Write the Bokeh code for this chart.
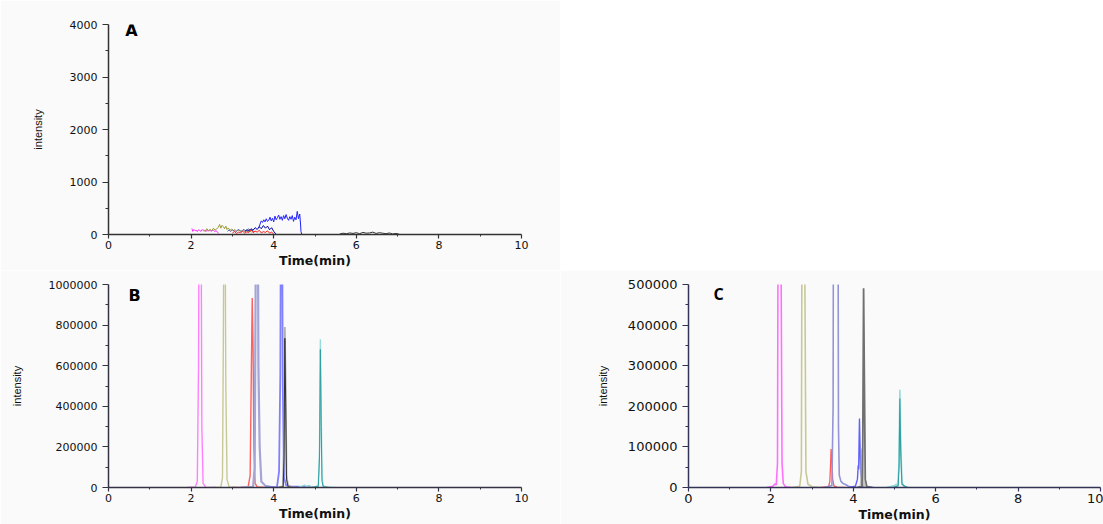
from bokeh.plotting import figure
from bokeh.layouts import column, row
from bokeh.models import Range1d, FixedTicker, Label, Spacer, NumeralTickFormatter
from bokeh.embed import file_html
from bokeh.resources import INLINE

# ---------------- axis ticks ----------------
X_TICKS = [0, 2, 4, 6, 8, 10]
X_MINOR = [1, 3, 5, 7, 9]
A_YTICKS = [0, 1000, 2000, 3000, 4000]
A_YMINOR = [500, 1500, 2500, 3500]
B_YTICKS = [0, 200000, 400000, 600000, 800000, 1000000]
B_YMINOR = [100000, 300000, 500000, 700000, 900000]
C_YTICKS = [0, 100000, 200000, 300000, 400000, 500000]
C_YMINOR = [50000, 150000, 250000, 350000, 450000]

# ---------------- panel A (blank sample, noise) ----------------
A_pink_t = [2.02, 2.04, 2.07, 2.10, 2.12, 2.15, 2.18, 2.21, 2.24, 2.27, 2.30, 2.33, 2.36, 2.39, 2.42, 2.45, 2.48, 2.51, 2.54, 2.57, 2.60, 2.63, 2.66]
A_pink_y = [115, 60, 95, 70, 85, 55, 90, 75, 60, 95, 70, 80, 55, 85, 65, 90, 60, 75, 85, 55, 70, 60, 20]
A_olive_t = [2.30, 2.34, 2.38, 2.42, 2.46, 2.50, 2.54, 2.58, 2.62, 2.66, 2.69, 2.72, 2.75, 2.78, 2.81, 2.84, 2.87, 2.90, 2.94, 2.98, 3.02, 3.06, 3.10, 3.14, 3.18, 3.22, 3.26, 3.30, 3.34, 3.38, 3.42, 3.46]
A_olive_y = [90, 60, 110, 75, 95, 70, 120, 85, 105, 140, 190, 120, 175, 150, 110, 160, 95, 125, 80, 105, 70, 95, 60, 85, 75, 55, 80, 60, 70, 50, 65, 40]
A_slate_t = [2.88, 2.92, 2.96, 3.00, 3.04, 3.08, 3.12, 3.16, 3.20, 3.24, 3.28, 3.32, 3.36, 3.40, 3.44, 3.48, 3.52]
A_slate_y = [60, 85, 55, 90, 70, 50, 80, 95, 60, 75, 100, 65, 85, 110, 70, 90, 40]
A_red_t = [3.00, 3.05, 3.10, 3.15, 3.20, 3.25, 3.30, 3.35, 3.40, 3.45, 3.50, 3.55, 3.60, 3.65, 3.70, 3.75, 3.80, 3.85, 3.90, 3.95, 4.00]
A_red_y = [30, 55, 20, 45, 35, 60, 25, 50, 40, 90, 35, 65, 45, 80, 30, 55, 40, 70, 25, 45, 10]
A_navy_t = [3.30, 3.35, 3.40, 3.45, 3.50, 3.55, 3.60, 3.65, 3.70, 3.75, 3.80, 3.85, 3.90, 3.95, 4.00, 4.05]
A_navy_y = [60, 90, 70, 110, 80, 130, 95, 150, 110, 170, 120, 160, 90, 130, 60, 10]
A_blue_t = [3.64, 3.67, 3.70, 3.73, 3.76, 3.79, 3.82, 3.85, 3.88, 3.91, 3.94, 3.97, 4.00, 4.03, 4.06, 4.09, 4.12, 4.15, 4.18, 4.21, 4.24, 4.27, 4.30, 4.33, 4.36, 4.39, 4.42, 4.45, 4.48, 4.51, 4.54, 4.57, 4.60, 4.63, 4.65, 4.66, 4.68]
A_blue_y = [120, 200, 260, 230, 280, 240, 300, 250, 270, 330, 260, 310, 240, 350, 280, 320, 370, 290, 340, 270, 360, 300, 380, 310, 270, 340, 290, 360, 250, 330, 280, 440, 300, 390, 200, 60, 0]
A_black_t = [5.60, 5.68, 5.76, 5.84, 5.92, 6.00, 6.08, 6.16, 6.24, 6.32, 6.40, 6.48, 6.56, 6.64, 6.72, 6.80, 6.88, 6.96, 7.04]
A_black_y = [10, 25, 15, 30, 20, 35, 15, 40, 25, 30, 45, 20, 35, 25, 15, 30, 10, 20, 5]

# ---------------- panel B ----------------
B_pink_t = [1.90, 2.10, 2.15, 2.18, 2.20, 2.22, 2.24, 2.26, 2.29, 2.35, 2.60]
B_pink_y = [0, 3000, 30000, 600000, 1800000, 2200000, 1500000, 300000, 20000, 2000, 0]
B_khaki_t = [2.50, 2.72, 2.76, 2.78, 2.80, 2.82, 2.84, 2.87, 2.92, 3.10]
B_khaki_y = [0, 2000, 50000, 700000, 1600000, 1500000, 520000, 40000, 3000, 0]
B_red_t = [3.00, 3.38, 3.43, 3.46, 3.48, 3.50, 3.52, 3.55, 3.60, 3.80]
B_red_y = [0, 2000, 60000, 600000, 934000, 700000, 200000, 20000, 3000, 0]
B_lav_t = [3.20, 3.50, 3.54, 3.57, 3.59, 3.61, 3.63, 3.66, 3.70, 3.80, 4.00]
B_lav_y = [0, 3000, 100000, 1300000, 2000000, 1700000, 600000, 200000, 30000, 8000, 0]
B_blue_t = [3.80, 4.08, 4.13, 4.16, 4.18, 4.20, 4.22, 4.25, 4.30, 4.40, 4.70, 5.00]
B_blue_y = [0, 3000, 80000, 560000, 1800000, 1600000, 500000, 50000, 10000, 5000, 3000, 0]
B_gray_t = [4.10, 4.22, 4.25, 4.27, 4.29, 4.31, 4.35, 4.50]
B_gray_y = [0, 5000, 200000, 790000, 500000, 60000, 5000, 0]
B_black_t = [4.10, 4.23, 4.25, 4.27, 4.29, 4.31, 4.35, 4.50]
B_black_y = [0, 3000, 150000, 735000, 420000, 40000, 3000, 0]
B_tealL_t = [4.60, 4.70, 4.75, 4.80, 4.85, 4.90, 5.00, 5.08, 5.11, 5.13, 5.15, 5.17, 5.20, 5.30, 5.50]
B_tealL_y = [0, 8000, 12000, 6000, 10000, 5000, 4000, 10000, 200000, 730000, 380000, 50000, 8000, 2000, 0]
B_tealD_t = [4.90, 5.08, 5.11, 5.13, 5.15, 5.17, 5.20, 5.40]
B_tealD_y = [0, 5000, 150000, 680000, 300000, 30000, 3000, 0]

# ---------------- panel C ----------------
C_pink_t = [1.90, 2.05, 2.10, 2.13, 2.16, 2.18, 2.20, 2.22, 2.24, 2.27, 2.30, 2.35, 2.50]
C_pink_y = [0, 3000, 9000, 6000, 60000, 900000, 2500000, 2200000, 700000, 60000, 10000, 2000, 0]
C_khaki_t = [2.50, 2.70, 2.74, 2.76, 2.78, 2.80, 2.82, 2.85, 2.90, 3.00, 3.20]
C_khaki_y = [0, 3000, 40000, 900000, 2400000, 2000000, 600000, 40000, 8000, 2000, 0]
C_red_t = [3.20, 3.40, 3.43, 3.45, 3.46, 3.48, 3.50, 3.53, 3.60, 3.80]
C_red_y = [0, 2000, 15000, 60000, 95000, 70000, 20000, 4000, 1000, 0]
C_lav_t = [3.30, 3.48, 3.51, 3.53, 3.56, 3.59, 3.62, 3.64, 3.66, 3.70, 3.75, 3.80, 3.88, 3.95, 4.10]
C_lav_y = [0, 5000, 200000, 1500000, 4000000, 3500000, 1200000, 150000, 30000, 15000, 10000, 8000, 3000, 1000, 0]
C_blue_t = [3.90, 4.05, 4.10, 4.12, 4.13, 4.14, 4.15, 4.16, 4.18, 4.20, 4.25, 4.35, 4.50]
C_blue_y = [0, 3000, 20000, 55000, 45000, 110000, 170000, 120000, 30000, 8000, 3000, 1000, 0]
C_gray_t = [4.10, 4.18, 4.20, 4.21, 4.22, 4.24, 4.27, 4.35]
C_gray_y = [0, 3000, 40000, 96000, 80000, 20000, 3000, 0]
C_dgray_t = [4.10, 4.21, 4.23, 4.25, 4.27, 4.29, 4.33, 4.45]
C_dgray_y = [0, 2000, 100000, 491000, 250000, 20000, 2000, 0]
C_tealL_t = [4.80, 5.00, 5.05, 5.08, 5.11, 5.13, 5.15, 5.18, 5.22, 5.35]
C_tealL_y = [0, 5000, 8000, 6000, 60000, 241000, 120000, 15000, 3000, 0]
C_tealD_t = [4.95, 5.09, 5.11, 5.13, 5.15, 5.18, 5.30]
C_tealD_y = [0, 4000, 50000, 219000, 90000, 8000, 0]

BG = "#fafafa"
TICK_FONT = "DejaVu Sans"


def make_panel(width, height, left, right, top, bottom, ymax, yticks, yminor,
               tick_size, ylabel_standoff, axis_color):
    p = figure(width=width, height=height, output_backend="svg", toolbar_location=None,
               x_range=Range1d(0, 10), y_range=Range1d(0, ymax),
               min_border_left=left, min_border_right=right,
               min_border_top=top, min_border_bottom=bottom)
    p.background_fill_color = BG
    p.border_fill_color = BG
    p.outline_line_color = None
    p.grid.visible = False
    p.xaxis.ticker = FixedTicker(ticks=X_TICKS, minor_ticks=X_MINOR)
    p.yaxis.ticker = FixedTicker(ticks=yticks, minor_ticks=yminor)
    p.yaxis.formatter = NumeralTickFormatter(format="0")
    for ax in (p.xaxis, p.yaxis):
        ax.axis_line_color = axis_color
        ax.axis_line_width = 1.5
        ax.major_tick_line_color = axis_color
        ax.minor_tick_line_color = axis_color
        ax.major_tick_line_width = 1.2
        ax.minor_tick_line_width = 1
        ax.major_tick_in = 0
        ax.minor_tick_in = 0
        ax.major_label_text_font = TICK_FONT
        ax.major_label_text_font_size = tick_size
        ax.major_label_text_color = "#111111"
    p.xaxis.major_tick_out = 4
    p.xaxis.minor_tick_out = 2
    p.xaxis.major_label_standoff = 2
    p.xaxis.axis_label = "Time(min)"
    p.xaxis.axis_label_text_font = "DejaVu Sans"
    p.xaxis.axis_label_text_font_style = "bold"
    p.xaxis.axis_label_text_font_size = "12.5px"
    p.xaxis.axis_label_text_color = "#111111"
    p.xaxis.axis_label_standoff = 1
    p.yaxis.major_tick_out = 6
    p.yaxis.minor_tick_out = 3
    p.yaxis.major_label_standoff = 5
    p.yaxis.axis_label = "intensity"
    p.yaxis.axis_label_text_font = "Liberation Sans"
    p.yaxis.axis_label_text_font_style = "normal"
    p.yaxis.axis_label_text_font_size = "11px"
    p.yaxis.axis_label_text_color = "#111111"
    p.yaxis.axis_label_standoff = ylabel_standoff
    return p


def panel_letter(p, text, sx, sy, font):
    p.add_layout(Label(x=sx, y=sy, x_units="screen", y_units="screen", text=text,
                       text_font=font, text_font_style="bold", text_font_size="16px",
                       text_color="#000000", text_align="center", text_baseline="middle"))


# ---------- A ----------
pA = make_panel(560, 270, 108, 39, 24, 34, 4000, A_YTICKS, A_YMINOR, "11px", 23, "#333333")
for t, y, c in [(A_pink_t, A_pink_y, "#ff33ff"), (A_olive_t, A_olive_y, "#999933"),
                (A_slate_t, A_slate_y, "#6666aa"), (A_red_t, A_red_y, "#ff2222"),
                (A_navy_t, A_navy_y, "#000099"), (A_blue_t, A_blue_y, "#2222ff"),
                (A_black_t, A_black_y, "#333333")]:
    pA.line(t, y, line_color=c, line_width=1)
panel_letter(pA, "A", 23, 204, "DejaVu Sans")

# ---------- B ----------
pB = make_panel(560, 254, 108, 39, 14, 34, 1000000, B_YTICKS, B_YMINOR, "11px", 23, "#333344")
for t, y, c, w in [(B_pink_t, B_pink_y, "#ff80ff", 1.4), (B_khaki_t, B_khaki_y, "#c8c896", 1.4),
                   (B_red_t, B_red_y, "#ff6060", 1.4), (B_lav_t, B_lav_y, "#a4a4d6", 2.2),
                   (B_blue_t, B_blue_y, "#8080ff", 1.8), (B_gray_t, B_gray_y, "#b0b0b0", 1.8),
                   (B_black_t, B_black_y, "#333333", 1.0), (B_tealL_t, B_tealL_y, "#96dcdc", 1.4),
                   (B_tealD_t, B_tealD_y, "#2e9e9e", 1.0)]:
    pB.line(t, y, line_color=c, line_width=w)
panel_letter(pB, "B", 26, 192, "DejaVu Sans")

# ---------- C ----------
pC = make_panel(543, 254, 128, 3, 13, 35, 500000, C_YTICKS, C_YMINOR, "13px", 16, "#333355")
for t, y, c, w in [(C_pink_t, C_pink_y, "#ff70ff", 1.6), (C_khaki_t, C_khaki_y, "#c8c896", 1.6),
                   (C_red_t, C_red_y, "#ff5a5a", 1.3), (C_lav_t, C_lav_y, "#9494d8", 1.6),
                   (C_blue_t, C_blue_y, "#6060ff", 1.4), (C_gray_t, C_gray_y, "#c4c4c4", 2.2),
                   (C_dgray_t, C_dgray_y, "#707070", 1.8), (C_tealL_t, C_tealL_y, "#96dcdc", 1.6),
                   (C_tealD_t, C_tealD_y, "#2e9e9e", 1.1)]:
    pC.line(t, y, line_color=c, line_width=w)
panel_letter(pC, "C", 30, 194, "Open Sans")

layout = column(row(pA, Spacer(width=543, height=270)), row(pB, pC))

open("out.html", "w").write(file_html(layout, INLINE))
